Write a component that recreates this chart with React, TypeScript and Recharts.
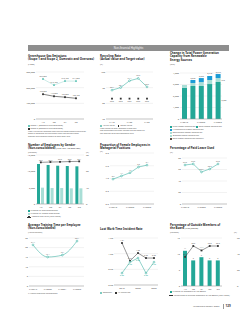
import React from "react";
import {
  LineChart,
  Line,
  BarChart,
  Bar,
  ComposedChart,
  XAxis,
  YAxis,
  CartesianGrid,
  LabelList,
} from "recharts";

const TEAL = "#23a797";
const LIGHT = "#a9ded6";
const BLUE = "#1b9cd6";
const DARK = "#333333";
const GRID = "#dddddd";
const TXT = "#555555";
const FONT = "'Noto Sans', Arial, sans-serif";

// Greenhouse gas emissions (t-CO2)
const ghgYears = ["'19", "'20", "'21", "'22"];
const ghgScope1 = [255300, 216400, 242100, 241800];
const ghgScope2 = [158200, 145000, 139300, 132100];
const ghgTicks = [0, 100000, 200000, 300000];

// Recycling rate (%)
const recYears = ["FY18", "FY19", "FY20", "FY21", "FY22"];
const recActual = [88.4, 90.1, 94.4, 95.9, 90.5];
const recTarget = [83.0, 83.0, 83.0, 83.0, 83.0];
const recTicks = [70, 80, 90, 100];

// Renewable capacity (MW)
const powYears = ["FY2018", "FY2019", "FY2020", "FY2021", "FY2022"];
const powWind = [2700, 2870, 2870, 3040, 3220];
const powSolar = [260, 260, 340, 350, 340];
const powHydro = [0, 260, 350, 350, 350];
const powTicks = [0, 1000, 2000, 3000, 4000];

// Employees by gender
const empYears = ["'19", "'20", "'21", "'22", "'23"];
const empMale = [12250, 11950, 11720, 11630, 11540];
const empFemale = [5000, 4900, 4900, 4800, 4800];
const empRatio = [25.5, 25.7, 25.8, 26.0, 26.1];
const empTicks = [0, 5000, 10000, 15000];
const empRatioTicks = [0, 10, 20, 30];

// Female managers (%)
const fmYears = ["FY2018", "FY2019", "FY2020", "FY2021", "FY2022"];
const fmValues = [3.9, 4.4, 4.9, 5.8, 6.1];
const fmTicks = [0, 2, 4, 6, 8];

// Paid leave (%)
const plYears = ["FY2018", "FY2019", "FY2020", "FY2021", "FY2022"];
const plValues = [67.8, 69.6, 55.7, 60.9, 69.6];
const plTicks = [0, 20, 40, 60, 80];

// Training hours
const trYears = ["FY2019", "FY2020", "FY2021", "FY2022"];
const trValues = [21.4, 15.1, 16.1, 23.4];
const trTicks = [0, 5, 10, 15, 20, 25];

// Lost work time incident rate
const lwYears = ["2018", "2019", "2020", "2021", "2022"];
const lwCompany = [0.38, 0.73, 0.86, 0.38, 0.73];
const lwIndustry = [1.34, 0.77, 1.02, 0.86, 0.86];
const lwTicks = [0, 0.5, 1.0, 1.5];

// Outside board members
const bdYears = ["'19", "'20", "'21", "'22", "'23"];
const bdMembers = [11, 8, 9, 8, 8];
const bdPct = [36.4, 50.0, 44.4, 50.0, 50.0];
const bdTicks = [0, 5, 10, 15];
const bdPctTicks = [0, 20, 40, 60];

const ghgData = ghgYears.map((y, i) => ({ y, s1: ghgScope1[i], s2: ghgScope2[i] }));
const recData = recYears.map((y, i) => ({ y, a: recActual[i], t: recTarget[i] }));
const powData = powYears.map((y, i) => ({
  y,
  wind: powWind[i],
  solar: powSolar[i],
  hydro: powHydro[i],
  total: powWind[i] + powSolar[i] + powHydro[i],
}));
const empData = empYears.map((y, i) => ({ y, m: empMale[i], f: empFemale[i], r: empRatio[i] }));
const fmData = fmYears.map((y, i) => ({ y, v: fmValues[i] }));
const plData = plYears.map((y, i) => ({ y, v: plValues[i] }));
const trData = trYears.map((y, i) => ({ y, v: trValues[i] }));
const lwData = lwYears.map((y, i) => ({ y, c: lwCompany[i], a: lwIndustry[i] }));
const bdData = bdYears.map((y, i) => ({ y, n: bdMembers[i], p: bdPct[i] }));

const tick = { fontSize: 2.4, fill: TXT, fontFamily: FONT };
const axisLine = { stroke: "#999", strokeWidth: 0.5 };
const fmt = (v: any) => Number(v).toLocaleString("en-US");
const fmt1 = (v: any) => Number(v).toFixed(1);
const fmt2 = (v: any) => Number(v).toFixed(2);

const squareDot = (color: string) => (p: any) => {
  if (p.cx == null || p.cy == null) return <g key={p.index} />;
  return <rect key={p.index} x={p.cx - 0.9} y={p.cy - 0.9} width={1.8} height={1.8} fill={color} />;
};
const ringDot = { r: 0.9, fill: "#fff", stroke: TEAL, strokeWidth: 0.5 };

function T({ x, y, s = 2.2, w = 400, c = TXT, children }: any) {
  return (
    <div
      style={{
        position: "absolute",
        left: x,
        top: y,
        fontSize: s,
        lineHeight: `${s * 1.2}px`,
        fontWeight: w,
        color: c,
        whiteSpace: "nowrap",
      }}
    >
      {children}
    </div>
  );
}

function Key({ x, y, color, line, outline, text }: any) {
  return (
    <div style={{ position: "absolute", left: x, top: y, display: "flex", alignItems: "center", whiteSpace: "nowrap" }}>
      {line ? (
        <div style={{ position: "relative", width: 4, height: 2 }}>
          <div style={{ position: "absolute", left: 0, top: 0.75, width: 4, height: 0.5, background: color }} />
          <div style={{ position: "absolute", left: 1.2, top: 0.2, width: 1.6, height: 1.6, background: color }} />
        </div>
      ) : (
        <div
          style={{
            width: 1.8,
            height: 1.8,
            background: outline ? "#fff" : color,
            border: outline ? `0.4px solid ${color}` : "none",
            boxSizing: "border-box",
          }}
        />
      )}
      <span style={{ fontSize: 2.1, color: TXT, marginLeft: 0.8, lineHeight: "2.4px" }}>{text}</span>
    </div>
  );
}

function At({ x, y, children }: any) {
  return <div style={{ position: "absolute", left: x, top: y }}>{children}</div>;
}

export default function App() {
  return (
    <div
      style={{
        position: "absolute",
        left: 0,
        top: 0,
        width: 246,
        height: 320,
        background: "#fff",
        overflow: "hidden",
        fontFamily: FONT,
      }}
    >
      {/* header */}
      <div
        style={{
          position: "absolute",
          left: 28,
          top: 45,
          width: 201,
          height: 6,
          background: "#8e8e8e",
          color: "#fff",
          fontSize: 2.6,
          lineHeight: "6px",
          textAlign: "center",
        }}
      >
        Non-financial Highlights
      </div>

      {/* 1. GHG */}
      <T x={28} y={55} s={2.9} w={700} c="#222">
        Greenhouse Gas Emissions
        <br />
        (Scope 1 and Scope 2, Domestic and Overseas)
      </T>
      <T x={28} y={63.5} s={2}>(t-CO2)</T>
      <At x={25} y={70}>
        <LineChart width={59} height={56} data={ghgData} margin={{ top: 2, right: 0, bottom: 0, left: 0 }}>
          <CartesianGrid vertical={false} stroke={GRID} strokeWidth={0.4} />
          <XAxis dataKey="y" height={7} tick={tick} tickLine={false} axisLine={axisLine} tickSize={0} tickMargin={2} padding={{ left: 7, right: 8 }} />
          <YAxis width={11} domain={[0, 300000]} ticks={ghgTicks} interval={0} tick={tick} tickFormatter={fmt} tickLine={false} axisLine={false} tickSize={0} tickMargin={1} />
          <Line dataKey="s1" stroke={LIGHT} strokeWidth={0.6} dot={squareDot("#6cc9bd")} isAnimationActive={false}>
            <LabelList dataKey="s1" position="top" offset={2} fontSize={1.9} fill={TXT} formatter={fmt} />
          </Line>
          <Line dataKey="s2" stroke={DARK} strokeWidth={0.6} dot={squareDot(DARK)} isAnimationActive={false}>
            <LabelList dataKey="s2" position="top" offset={2} fontSize={1.9} fill={TXT} formatter={fmt} />
          </Line>
        </LineChart>
      </At>
      <Key x={28} y={125} color="#6cc9bd" text="Scope 1 (Domestic and Overseas)" />
      <Key x={28} y={128} color={DARK} text="Scope 2 (Domestic and Overseas)" />
      <T x={28} y={131} s={1.9}>
        Note: Figures for overseas sites include consolidated subsidiaries.
        <br />
        Scope 2 emissions are calculated using the market-based
        <br />
        method and emission factors of each fiscal year.
      </T>

      {/* 2. Recycling */}
      <T x={100} y={55} s={2.9} w={700} c="#222">
        Recycling Rate
        <br />
        (Actual value and Target value)
      </T>
      <T x={100} y={63.5} s={2}>(%)</T>
      <At x={98} y={70}>
        <LineChart width={55} height={56} data={recData} margin={{ top: 2, right: 0, bottom: 0, left: 0 }}>
          <CartesianGrid vertical={false} stroke={GRID} strokeWidth={0.4} />
          <XAxis dataKey="y" height={7} tick={tick} tickLine={false} axisLine={axisLine} tickSize={0} tickMargin={2} padding={{ left: 6, right: 6 }} />
          <YAxis width={8} domain={[70, 100]} ticks={recTicks} interval={0} tick={tick} tickLine={false} axisLine={false} tickSize={0} tickMargin={1} />
          <Line dataKey="a" stroke={TEAL} strokeWidth={0.5} dot={ringDot} isAnimationActive={false}>
            <LabelList dataKey="a" position="top" offset={2} fontSize={1.9} fill={TXT} formatter={fmt1} />
          </Line>
          <Line dataKey="t" stroke="none" dot={squareDot(DARK)} isAnimationActive={false}>
            <LabelList dataKey="t" position="bottom" offset={2} fontSize={1.9} fill={TXT} formatter={fmt1} />
          </Line>
        </LineChart>
      </At>
      <div style={{ position: "absolute", left: 100, top: 125 }}>
        <div style={{ display: "flex", alignItems: "center", fontSize: 2.1, color: TXT, lineHeight: "2.4px" }}>
          <span style={{ width: 1.6, height: 1.6, borderRadius: 1, border: `0.4px solid ${TEAL}`, boxSizing: "border-box" }} />
          <span style={{ marginLeft: 0.8, marginRight: 3 }}>Actual value</span>
          <span style={{ width: 1.8, height: 1.8, background: DARK }} />
          <span style={{ marginLeft: 0.8 }}>Target value</span>
        </div>
      </div>
      <T x={100} y={128} s={1.9}>
        Note: Scope of data: domestic plants and
        <br />
        non-manufacturing sites. Targets are set based on
        <br />
        the medium-term environmental plan.
      </T>

      {/* 3. Renewable capacity */}
      <T x={170} y={52} s={2.9} w={700} c="#222">
        Change in Total Power Generation
        <br />
        Capacity from Renewable
        <br />
        Energy Sources
      </T>
      <T x={170} y={64} s={2}>(MW)</T>
      <At x={168} y={71}>
        <BarChart width={62} height={54} data={powData} margin={{ top: 2, right: 8, bottom: 0, left: 0 }} barSize={5}>
          <CartesianGrid vertical={false} stroke={GRID} strokeWidth={0.4} />
          <XAxis dataKey="y" height={6} tick={tick} tickLine={false} axisLine={axisLine} tickSize={0} tickMargin={2} />
          <YAxis width={12} domain={[0, 4000]} ticks={powTicks} interval={0} tick={tick} tickFormatter={fmt} tickLine={false} axisLine={false} tickSize={0} tickMargin={1} />
          <Bar dataKey="wind" stackId="a" fill={TEAL} isAnimationActive={false}>
            <LabelList
              dataKey="wind"
              content={(p: any) =>
                p.index === 4 ? (
                  <text x={p.x + p.width + 1} y={p.y + p.height / 2} fontSize={1.9} fill={TXT} dominantBaseline="middle">
                    {fmt(p.value)}
                  </text>
                ) : null
              }
            />
          </Bar>
          <Bar dataKey="solar" stackId="a" fill={LIGHT} isAnimationActive={false}>
            <LabelList
              dataKey="solar"
              content={(p: any) =>
                p.index === 4 ? (
                  <text x={p.x + p.width + 1} y={p.y + p.height / 2} fontSize={1.9} fill={TXT} dominantBaseline="middle">
                    {fmt(p.value)}
                  </text>
                ) : null
              }
            />
          </Bar>
          <Bar dataKey="hydro" stackId="a" fill={BLUE} isAnimationActive={false}>
            <LabelList dataKey="total" position="top" offset={1.5} fontSize={1.9} fill={TXT} formatter={fmt} />
            <LabelList
              dataKey="hydro"
              content={(p: any) =>
                p.index === 4 ? (
                  <text x={p.x + p.width + 1} y={p.y + p.height / 2} fontSize={1.9} fill={TXT} dominantBaseline="middle">
                    {fmt(p.value)}
                  </text>
                ) : null
              }
            />
          </Bar>
        </BarChart>
      </At>
      <Key x={170} y={125.5} color={TEAL} text="Wind power generation" />
      <Key x={196} y={125.5} color={TEAL} outline text="Solar power generation" />
      <Key x={170} y={128.5} color={BLUE} text="Hydroelectric power generation" />
      <Key x={170} y={131.5} color={LIGHT} text="Geothermal power generation" />
      <Key x={170} y={134.5} color={LIGHT} outline text="Biomass power generation" />
      <Key x={170} y={137.5} color="#5a4a42" text="Total power generation capacity" />

      {/* 4. Employees by gender */}
      <T x={28} y={144} s={2.9} w={700} c="#222">
        Number of Employees by Gender
        <br />
        (Non-consolidated)
        <span style={{ fontWeight: 400, fontSize: 2 }}> (As of April 1 of each year)</span>
      </T>
      <T x={28} y={151.5} s={2}>(Persons)</T>
      <T x={86} y={151.5} s={2}>(%)</T>
      <At x={24} y={153}>
        <ComposedChart width={68} height={56} data={empData} margin={{ top: 2, right: 0, bottom: 0, left: 0 }} barSize={3} barGap={1}>
          <CartesianGrid vertical={false} stroke={GRID} strokeWidth={0.4} />
          <XAxis dataKey="y" height={5} tick={tick} tickLine={false} axisLine={axisLine} tickSize={0} tickMargin={2} />
          <YAxis yAxisId="l" width={12} domain={[0, 15000]} ticks={empTicks} interval={0} tick={tick} tickFormatter={fmt} tickLine={false} axisLine={false} tickSize={0} tickMargin={1} />
          <YAxis yAxisId="r" orientation="right" width={8} domain={[0, 30]} ticks={empRatioTicks} interval={0} tick={tick} tickLine={false} axisLine={false} tickSize={0} tickMargin={2} />
          <Bar yAxisId="l" dataKey="m" fill={TEAL} isAnimationActive={false} />
          <Bar yAxisId="l" dataKey="f" fill={LIGHT} isAnimationActive={false} />
          <Line yAxisId="r" dataKey="r" stroke={DARK} strokeWidth={0.5} dot={squareDot(DARK)} isAnimationActive={false}>
            <LabelList dataKey="r" position="top" offset={1.5} fontSize={1.9} fill={TXT} formatter={fmt1} />
          </Line>
        </ComposedChart>
      </At>
      <Key x={28} y={210} color={TEAL} text="Number of male employees" />
      <Key x={28} y={213} color={LIGHT} text="Number of female employees" />
      <Key x={27} y={216} color={DARK} line text="Female staff ratio (right scale)" />

      {/* 5. Female managers */}
      <T x={100} y={144} s={2.9} w={700} c="#222">
        Proportion of Female Employees in
        <br />
        Managerial Positions
      </T>
      <T x={100} y={151} s={2}>(%)</T>
      <At x={98} y={151}>
        <LineChart width={56} height={58} data={fmData} margin={{ top: 2, right: 0, bottom: 0, left: 0 }}>
          <CartesianGrid vertical={false} stroke={GRID} strokeWidth={0.4} />
          <XAxis dataKey="y" height={5} tick={tick} tickLine={false} axisLine={axisLine} tickSize={0} tickMargin={2} padding={{ left: 3, right: 7 }} />
          <YAxis width={12} domain={[0, 8]} ticks={fmTicks} interval={0} tick={tick} tickFormatter={fmt1} tickLine={false} axisLine={false} tickSize={0} tickMargin={1} />
          <Line dataKey="v" stroke={TEAL} strokeWidth={0.5} dot={ringDot} isAnimationActive={false}>
            <LabelList dataKey="v" position="top" offset={2} fontSize={1.9} fill={TXT} formatter={fmt1} />
          </Line>
        </LineChart>
      </At>

      {/* 6. Paid leave */}
      <T x={170} y={146.5} s={2.9} w={700} c="#222">
        Percentage of Paid Leave Used
      </T>
      <T x={170} y={151.5} s={2}>(%)</T>
      <At x={170} y={156}>
        <LineChart width={57} height={53} data={plData} margin={{ top: 2, right: 0, bottom: 0, left: 0 }}>
          <CartesianGrid vertical={false} stroke={GRID} strokeWidth={0.4} />
          <XAxis dataKey="y" height={5} tick={tick} tickLine={false} axisLine={axisLine} tickSize={0} tickMargin={2} padding={{ left: 3, right: 9 }} />
          <YAxis width={12} domain={[0, 80]} ticks={plTicks} interval={0} tick={tick} tickLine={false} axisLine={false} tickSize={0} tickMargin={1} />
          <Line dataKey="v" stroke={TEAL} strokeWidth={0.5} dot={ringDot} isAnimationActive={false}>
            <LabelList dataKey="v" position="top" offset={2} fontSize={1.9} fill={TXT} formatter={fmt1} />
          </Line>
        </LineChart>
      </At>

      {/* 7. Training time */}
      <T x={28} y={224} s={2.9} w={700} c="#222">
        Average Training Time per Employee
        <br />
        (Non-consolidated)
      </T>
      <T x={28} y={232} s={2}>(Hours/person)</T>
      <At x={20} y={236}>
        <LineChart width={64} height={55} data={trData} margin={{ top: 2, right: 0, bottom: 0, left: 0 }}>
          <CartesianGrid vertical={false} stroke={GRID} strokeWidth={0.4} />
          <XAxis dataKey="y" height={5} tick={tick} tickLine={false} axisLine={axisLine} tickSize={0} tickMargin={2} padding={{ left: 4, right: 7 }} />
          <YAxis width={9} domain={[0, 25]} ticks={trTicks} interval={0} tick={tick} tickLine={false} axisLine={false} tickSize={0} tickMargin={1} />
          <Line type="monotone" dataKey="v" stroke={TEAL} strokeWidth={0.5} dot={ringDot} isAnimationActive={false}>
            <LabelList dataKey="v" position="top" offset={2} fontSize={1.9} fill={TXT} formatter={fmt1} />
          </Line>
        </LineChart>
      </At>
      <T x={28} y={292.5} s={1.9}>* Human resources development</T>

      {/* 8. Lost work time */}
      <T x={100} y={227.5} s={2.9} w={700} c="#222">
        Lost Work Time Incident Rate
      </T>
      <At x={100} y={236}>
        <LineChart width={58} height={54} data={lwData} margin={{ top: 2, right: 0, bottom: 0, left: 0 }}>
          <CartesianGrid vertical={false} stroke={GRID} strokeWidth={0.4} />
          <XAxis dataKey="y" height={5} tick={tick} tickLine={false} axisLine={axisLine} tickSize={0} tickMargin={2} padding={{ left: 8, right: 4 }} />
          <YAxis width={14} domain={[0, 1.5]} ticks={lwTicks} interval={0} tick={tick} tickFormatter={fmt2} tickLine={false} axisLine={false} tickSize={0} tickMargin={1} />
          <Line dataKey="a" stroke={DARK} strokeWidth={0.5} dot={squareDot(DARK)} isAnimationActive={false}>
            <LabelList dataKey="a" position="top" offset={2} fontSize={1.9} fill={TXT} formatter={fmt2} />
          </Line>
          <Line dataKey="c" stroke={TEAL} strokeWidth={0.5} dot={ringDot} isAnimationActive={false}>
            <LabelList dataKey="c" position="bottom" offset={2} fontSize={1.9} fill={TEAL} formatter={fmt2} />
          </Line>
        </LineChart>
      </At>
      <div style={{ position: "absolute", left: 100, top: 292 }}>
        <div style={{ display: "flex", alignItems: "center", fontSize: 2.1, color: TXT, lineHeight: "2.4px" }}>
          <span style={{ width: 1.6, height: 1.6, borderRadius: 1, border: `0.4px solid ${TEAL}`, boxSizing: "border-box" }} />
          <span style={{ marginLeft: 0.8, marginRight: 3 }}>Company</span>
          <span style={{ width: 1.8, height: 1.8, background: DARK }} />
          <span style={{ marginLeft: 0.8 }}>All industries</span>
        </div>
      </div>

      {/* 9. Outside board members */}
      <T x={170} y={224} s={2.9} w={700} c="#222">
        Percentage of Outside Members of
        <br />
        the Board
        <span style={{ fontWeight: 400, fontSize: 2 }}> (As of June 30)</span>
      </T>
      <T x={170} y={232} s={2}>(Persons)</T>
      <T x={234} y={232} s={2}>(%)</T>
      <At x={170} y={236}>
        <ComposedChart width={70} height={55} data={bdData} margin={{ top: 2, right: 0, bottom: 0, left: 0 }} barSize={4}>
          <CartesianGrid vertical={false} stroke={GRID} strokeWidth={0.4} />
          <XAxis dataKey="y" height={5} tick={tick} tickLine={false} axisLine={axisLine} tickSize={0} tickMargin={2} />
          <YAxis yAxisId="l" width={11} domain={[0, 15]} ticks={bdTicks} interval={0} tick={tick} tickLine={false} axisLine={false} tickSize={0} tickMargin={1} />
          <YAxis yAxisId="r" orientation="right" width={18} domain={[0, 60]} ticks={bdPctTicks} interval={0} tick={tick} tickLine={false} axisLine={false} tickSize={0} tickMargin={15} />
          <Bar yAxisId="l" dataKey="n" fill={TEAL} isAnimationActive={false}>
            <LabelList dataKey="n" position="top" offset={1.5} fontSize={1.9} fill={TXT} />
          </Bar>
          <Line yAxisId="r" dataKey="p" stroke={DARK} strokeWidth={0.5} dot={squareDot(DARK)} isAnimationActive={false}>
            <LabelList dataKey="p" position="top" offset={2} fontSize={1.9} fill={TXT} formatter={fmt1} />
          </Line>
        </ComposedChart>
      </At>
      <Key x={170} y={291} color={TEAL} text="Number of members of the Board" />
      <Key x={169} y={294.5} color={DARK} line text="Percentage of outside members of the Board (right scale)" />

      {/* footer */}
      <T x={193} y={305} s={2.4}>Integrated Report 2023</T>
      <div style={{ position: "absolute", left: 223, top: 303.5, width: 0.5, height: 5, background: "#999" }} />
      <T x={225.5} y={304.5} s={3} w={700} c="#333">129</T>
    </div>
  );
}
